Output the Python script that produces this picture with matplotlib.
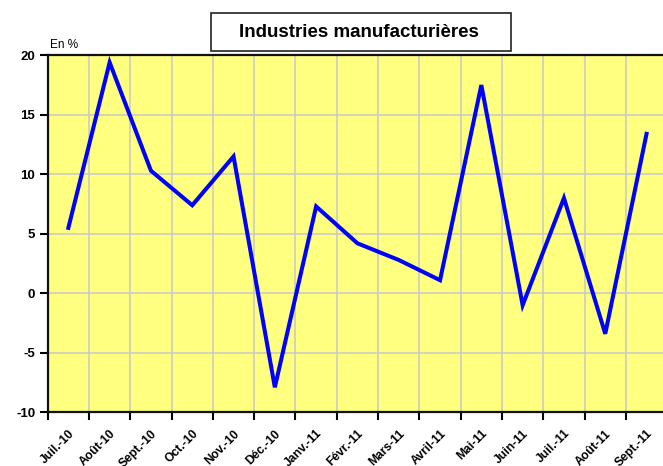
import numpy as np
import matplotlib
matplotlib.use("Agg")
import matplotlib.pyplot as plt
from matplotlib.patches import Rectangle

plt.rcParams['font.family'] = ['Liberation Sans', 'DejaVu Sans']
plt.rcParams['axes.unicode_minus'] = False

months = ["Juil.-10", "Août-10", "Sept.-10", "Oct.-10", "Nov.-10", "Déc.-10",
          "Janv.-11", "Févr.-11", "Mars-11", "Avril-11", "Mai-11", "Juin-11",
          "Juil.-11", "Août-11", "Sept.-11"]
values = [5.5, 19.4, 10.3, 7.4, 11.5, -7.9, 7.3, 4.2, 2.8, 1.1, 17.5, -1.0,
          8.0, -3.4, 13.4]
title = "Industries manufacturières"
unit = "En %"

fig = plt.figure(figsize=(6.63, 4.66), dpi=100)
ax = fig.add_axes([47.7 / 663, 1 - 412.3 / 466, 619.5 / 663, 357 / 466])
ax.set_facecolor("#ffff80")

x = np.arange(len(months))
ax.plot(x, values, color="#0000ff", lw=2.9, solid_joinstyle="miter", zorder=3)

ax.set_xlim(-0.5, len(months) - 0.5)
ax.set_ylim(-10, 20)
ax.set_yticks(np.arange(-10, 21, 5))

# category boundaries carry the ticks and gridlines, labels sit at centres
ax.set_xticks(np.arange(-0.5, len(months) - 0.4, 1))
ax.set_xticklabels([])
ax.set_xticks(x, minor=True)
ax.set_xticklabels(months, minor=True, rotation=45, ha="right",
                   rotation_mode="anchor", fontsize=8.7, fontweight="bold")
ax.tick_params(axis="x", which="minor", length=0, pad=11)
ax.tick_params(axis="x", which="major", length=6, width=1.5, direction="out")
ax.tick_params(axis="y", length=6, width=1.5, direction="out", pad=3,
               labelsize=9.5)
for t in ax.get_yticklabels():
    t.set_fontweight("bold")

ax.grid(True, which="major", color="#c8c8c8", lw=1.1)
ax.set_axisbelow(True)
for s in ["left", "bottom", "top"]:
    ax.spines[s].set_linewidth(1.6)
    ax.spines[s].set_color("#111111")
ax.spines["right"].set_visible(False)

fig.text(50 / 663, 1 - 45 / 466, unit, fontsize=8.5, va="center", ha="left")

fig.patches.append(Rectangle((211 / 663, 1 - 51 / 466), 300 / 663, 37.7 / 466,
                             transform=fig.transFigure, facecolor="white",
                             edgecolor="#222222", lw=1.2))
fig.text(359.4 / 663, 1 - 32.5 / 466, title, fontsize=13.5, fontweight="bold",
         ha="center", va="center")

fig.savefig("out.png", dpi=100)
